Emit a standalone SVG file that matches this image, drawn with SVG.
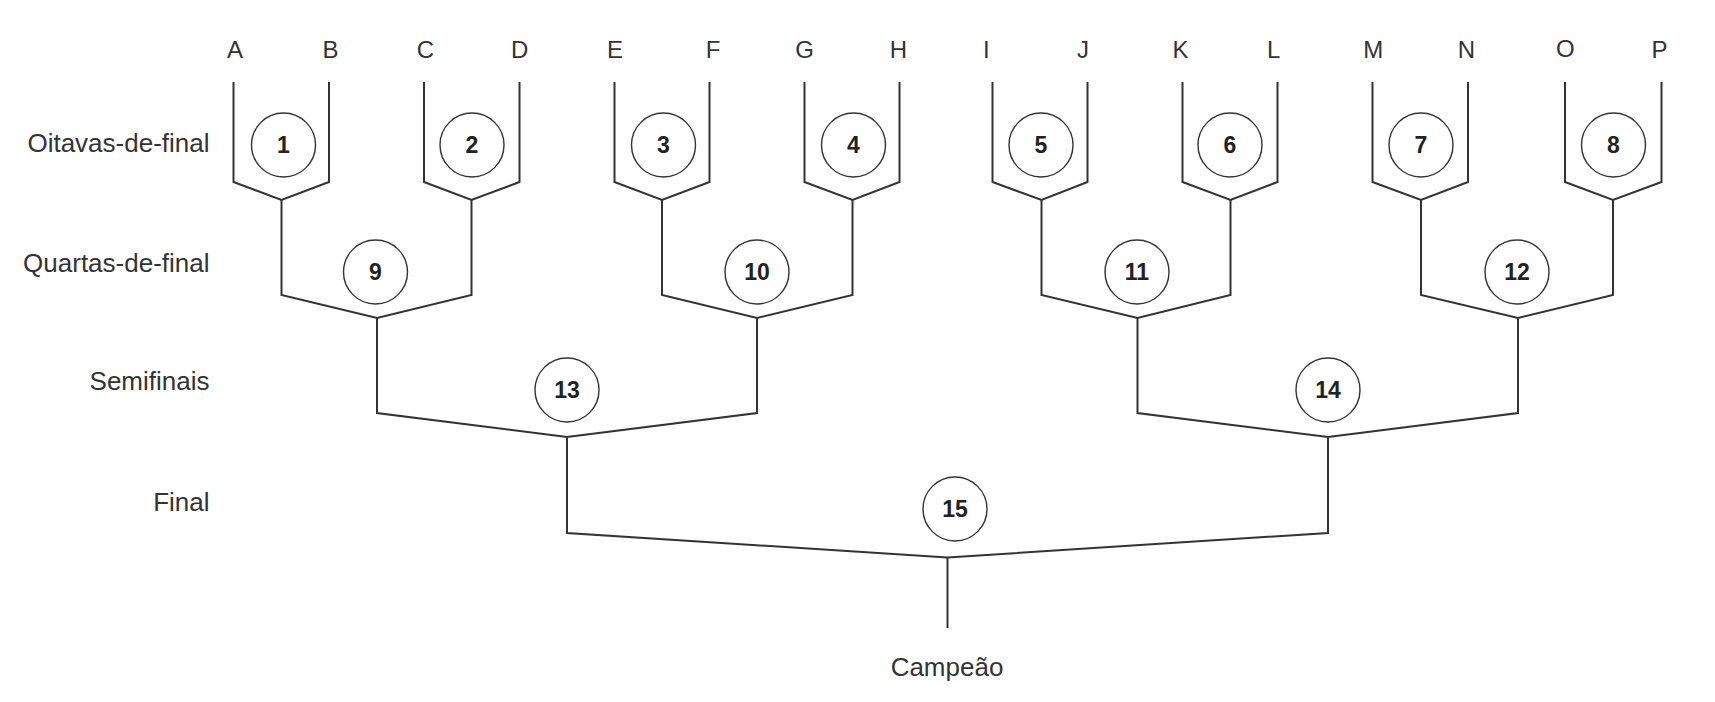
<svg xmlns="http://www.w3.org/2000/svg" width="1715" height="702" viewBox="0 0 1715 702">
<style>
.bg{fill:#ffffff}
.ln{fill:none;stroke:#333333;stroke-width:2;stroke-linejoin:miter}
.m circle{fill:#ffffff;stroke:#333333;stroke-width:1.4}
.m text{font-family:"Liberation Sans",Arial,sans-serif;font-weight:bold;font-size:23px;fill:#222222;text-anchor:middle}
.team text{font-family:"Liberation Sans",Arial,sans-serif;font-size:24px;fill:#333333;text-anchor:middle}
.row text{font-family:"Liberation Sans",Arial,sans-serif;font-size:26px;fill:#333333;text-anchor:end}
.champ text{font-family:"Liberation Sans",Arial,sans-serif;font-size:26px;fill:#333333;text-anchor:middle}
</style>
<rect class="bg" x="0" y="0" width="1715" height="702"/>
<g id="connectors">
<path class="ln" d="M233.5 82V182L281.5 200L329 182V82"/>
<path class="ln" d="M424 82V182L471.5 200L519.5 182V82"/>
<path class="ln" d="M614.5 82V182L662 200L709.5 182V82"/>
<path class="ln" d="M804.5 82V182L852.5 200L899.5 182V82"/>
<path class="ln" d="M992.5 82V182L1041.5 200L1087.5 182V82"/>
<path class="ln" d="M1182.5 82V182L1230.5 200L1277.5 182V82"/>
<path class="ln" d="M1372.5 82V182L1421 200L1468 182V82"/>
<path class="ln" d="M1565 82V182L1613 200L1661.5 182V82"/>
<path class="ln" d="M281.5 200V295L377 318L471.5 295V200"/>
<path class="ln" d="M662 200V295L757 318L852.5 295V200"/>
<path class="ln" d="M1041.5 200V295L1137.5 318L1230.5 295V200"/>
<path class="ln" d="M1421 200V295L1518 318L1613 295V200"/>
<path class="ln" d="M377 318V413L567 437L757 413V318"/>
<path class="ln" d="M1137.5 318V413L1328 437L1518 413V318"/>
<path class="ln" d="M567 437V533L947.5 557.5L1328 533V437"/>
<path class="ln" d="M947.5 557.5V628"/>
</g>
<g id="team-A" class="team"><text x="235" y="58">A</text></g>
<g id="team-B" class="team"><text x="330.5" y="58">B</text></g>
<g id="team-C" class="team"><text x="425.5" y="58">C</text></g>
<g id="team-D" class="team"><text x="519.7" y="58">D</text></g>
<g id="team-E" class="team"><text x="615" y="58">E</text></g>
<g id="team-F" class="team"><text x="713" y="58">F</text></g>
<g id="team-G" class="team"><text x="804.6" y="58">G</text></g>
<g id="team-H" class="team"><text x="898.4" y="58">H</text></g>
<g id="team-I" class="team"><text x="986.4" y="58">I</text></g>
<g id="team-J" class="team"><text x="1083" y="58">J</text></g>
<g id="team-K" class="team"><text x="1180.4" y="58">K</text></g>
<g id="team-L" class="team"><text x="1273.7" y="58">L</text></g>
<g id="team-M" class="team"><text x="1373.2" y="58">M</text></g>
<g id="team-N" class="team"><text x="1466.5" y="58">N</text></g>
<g id="team-O" class="team"><text x="1565.3" y="57">O</text></g>
<g id="team-P" class="team"><text x="1659.4" y="58">P</text></g>
<g id="row-oitavas" class="row"><text x="209.5" y="152">Oitavas-de-final</text></g>
<g id="row-quartas" class="row"><text x="209.5" y="272">Quartas-de-final</text></g>
<g id="row-semifinais" class="row"><text x="209.5" y="390">Semifinais</text></g>
<g id="row-final" class="row"><text x="209.5" y="510.5">Final</text></g>
<g id="match-1" class="m"><circle cx="283.5" cy="145" r="32"/><text x="283.5" y="153">1</text></g>
<g id="match-2" class="m"><circle cx="472" cy="145" r="32"/><text x="472" y="153">2</text></g>
<g id="match-3" class="m"><circle cx="663.5" cy="145" r="32"/><text x="663.5" y="153">3</text></g>
<g id="match-4" class="m"><circle cx="853.5" cy="145" r="32"/><text x="853.5" y="153">4</text></g>
<g id="match-5" class="m"><circle cx="1041" cy="145" r="32"/><text x="1041" y="153">5</text></g>
<g id="match-6" class="m"><circle cx="1230" cy="145" r="32"/><text x="1230" y="153">6</text></g>
<g id="match-7" class="m"><circle cx="1421" cy="145" r="32"/><text x="1421" y="153">7</text></g>
<g id="match-8" class="m"><circle cx="1613.5" cy="145" r="32"/><text x="1613.5" y="153">8</text></g>
<g id="match-9" class="m"><circle cx="375.5" cy="272" r="32"/><text x="375.5" y="280">9</text></g>
<g id="match-10" class="m"><circle cx="757" cy="272" r="32"/><text x="757" y="280">10</text></g>
<g id="match-11" class="m"><circle cx="1137" cy="272" r="32"/><text x="1137" y="280">11</text></g>
<g id="match-12" class="m"><circle cx="1517" cy="272" r="32"/><text x="1517" y="280">12</text></g>
<g id="match-13" class="m"><circle cx="567" cy="390" r="32"/><text x="567" y="398">13</text></g>
<g id="match-14" class="m"><circle cx="1328" cy="390" r="32"/><text x="1328" y="398">14</text></g>
<g id="match-15" class="m"><circle cx="955" cy="509" r="32"/><text x="955" y="517">15</text></g>
<g id="champion" class="champ"><text x="947" y="676">Campeão</text></g>
</svg>
